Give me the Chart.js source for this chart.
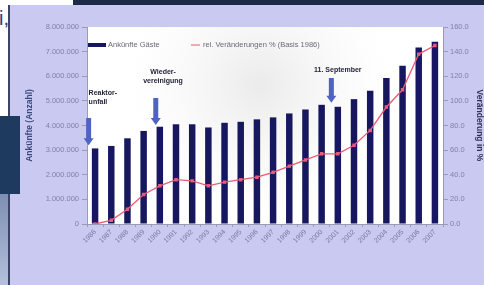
<!DOCTYPE html>
<html>
<head>
<meta charset="utf-8">
<script src="https://cdn.jsdelivr.net/npm/chart.js@4"></script>
<style>
  html, body { margin: 0; padding: 0; width: 484px; height: 285px; overflow: hidden; background: #fff; }
  body { position: relative; font-family: "Liberation Sans", Arial, sans-serif; }
  .top-band { position: absolute; left: 73px; top: 0; width: 411px; height: 6px; background: #1b2b47; }
  .panel { position: absolute; left: 8px; top: 5px; right: 0; bottom: 0; background: #c9c9f2; border-left: 2px solid #3c4466; }
  .left-block { position: absolute; left: 0; top: 116px; width: 20px; height: 78px; background: #1e3a5e; }
  .left-low { position: absolute; left: 0; top: 194px; width: 8px; height: 91px; background: linear-gradient(#7d8fb3, #b4c0dc); }
  .cut-title { position: absolute; left: -1px; top: 7px; font-size: 20px; color: #2b3c82; }
  canvas { position: absolute; left: 0; top: 0; }
</style>
</head>
<body>
<div class="top-band"></div>
<div class="panel"></div>
<div class="left-block"></div>
<div class="left-low"></div>
<div class="cut-title">i,</div>
<canvas id="c" width="484" height="285"></canvas>
<script>
  // Werte
  const years = ['1986', '1987', '1988', '1989', '1990', '1991', '1992', '1993', '1994', '1995', '1996',
    '1997', '1998', '1999', '2000', '2001', '2002', '2003', '2004', '2005', '2006', '2007'];
  const arrivals = [3070000, 3170000, 3480000, 3780000, 3950000, 4050000, 4050000, 3920000, 4110000, 4150000, 4250000,
    4330000, 4490000, 4650000, 4840000, 4760000, 5070000, 5410000, 5930000, 6430000, 7170000, 7400000];
  const changePct = [0, 3, 12, 24, 31, 36, 35, 31, 34, 36, 38,
    42, 47, 52, 57, 57, 64, 76, 95, 109, 138, 145];
  const leftTitle = 'Ankünfte (Anzahl)';
  const rightTitle = 'Veränderung in %';
  const barLabel = 'Ankünfte Gäste';
  const lineLabel = 'rel. Veränderungen % (Basis 1986)';

  const NAVY = '#17175f';
  const RED = '#ea5a78';
  const TICK = '#8282a4';
  const FONT = '"Liberation Sans", Arial, sans-serif';

  // Ereignisse mit Pfeil (x = Kategorie-Index, y = Wert linke Achse)
  const notes = [
    { lines: ['Reaktor-', 'unfall'], textX: -0.4, textY: 5300000, align: 'left', arrowX: -0.4, arrowTop: 4300000, arrowTip: 3200000 },
    { lines: ['Wieder-', 'vereinigung'], textX: 4.2, textY: 6180000, align: 'center', arrowX: 3.75, arrowTop: 5120000, arrowTip: 4020000 },
    { lines: ['11. September'], textX: 15.0, textY: 6260000, align: 'center', arrowX: 14.6, arrowTop: 5930000, arrowTip: 4920000 }
  ];

  function fmtDe(v) {
    return String(v).replace(/\B(?=(\d{3})+(?!\d))/g, '.');
  }

  const plotBg = {
    id: 'plotBg',
    beforeDraw(chart) {
      const { ctx, chartArea: a } = chart;
      ctx.save();
      ctx.fillStyle = '#ffffff';
      ctx.fillRect(a.left, a.top, a.right - a.left, a.bottom - a.top);
      const g = ctx.createRadialGradient(260, 85, 5, 260, 85, 130);
      g.addColorStop(0, 'rgba(200,200,200,0.35)');
      g.addColorStop(1, 'rgba(230,230,230,0)');
      ctx.fillStyle = g;
      ctx.fillRect(a.left, a.top, a.right - a.left, a.bottom - a.top);
      ctx.restore();
    }
  };

  const legendInside = {
    id: 'legendInside',
    afterDraw(chart) {
      const { ctx, chartArea: a } = chart;
      const ds = chart.data.datasets;
      const y = a.top + 18;
      ctx.save();
      ctx.font = '7.5px ' + FONT;
      ctx.textBaseline = 'middle';
      ctx.fillStyle = ds[1].backgroundColor;
      ctx.fillRect(a.left + 1, y - 2, 18, 4);
      ctx.fillStyle = '#6a6a7a';
      ctx.fillText(ds[1].label, a.left + 21, y);
      const lx = a.left + 104;
      ctx.strokeStyle = ds[0].borderColor;
      ctx.lineWidth = 1;
      ctx.beginPath();
      ctx.moveTo(lx, y);
      ctx.lineTo(lx + 9, y);
      ctx.stroke();
      ctx.fillText(ds[0].label, lx + 12, y);
      ctx.restore();
    }
  };

  const eventNotes = {
    id: 'eventNotes',
    afterDatasetsDraw(chart) {
      const { ctx, scales: { x, y } } = chart;
      ctx.save();
      for (const n of notes) {
        // Pfeil
        const ax = x.getPixelForValue(n.arrowX);
        const t = y.getPixelForValue(n.arrowTop);
        const b = y.getPixelForValue(n.arrowTip);
        ctx.fillStyle = '#4f63c4';
        ctx.beginPath();
        ctx.moveTo(ax - 2.5, t);
        ctx.lineTo(ax + 2.5, t);
        ctx.lineTo(ax + 2.5, b - 7);
        ctx.lineTo(ax + 5, b - 7);
        ctx.lineTo(ax, b);
        ctx.lineTo(ax - 5, b - 7);
        ctx.lineTo(ax - 2.5, b - 7);
        ctx.closePath();
        ctx.fill();
        // Text
        ctx.font = 'bold 7px ' + FONT;
        ctx.fillStyle = '#24243c';
        ctx.textAlign = n.align;
        ctx.textBaseline = 'middle';
        const tx = x.getPixelForValue(n.textX);
        const ty = y.getPixelForValue(n.textY);
        n.lines.forEach((l, i) => ctx.fillText(l, tx, ty + i * 9));
      }
      ctx.restore();
    }
  };

  new Chart(document.getElementById('c'), {
    data: {
      labels: years,
      datasets: [
        {
          type: 'line',
          label: lineLabel,
          data: changePct,
          yAxisID: 'y1',
          borderColor: RED,
          backgroundColor: RED,
          borderWidth: 1.3,
          pointRadius: 1.5,
          pointStyle: 'rect',
          tension: 0,
          order: 0
        },
        {
          type: 'bar',
          label: barLabel,
          data: arrivals,
          yAxisID: 'y',
          backgroundColor: NAVY,
          borderWidth: 0,
          categoryPercentage: 1,
          barPercentage: 0.4,
          order: 1
        }
      ]
    },
    options: {
      responsive: false,
      animation: false,
      layout: { padding: { left: 18, right: 0, top: 27, bottom: 33 } },
      plugins: {
        legend: { display: false },
        tooltip: { enabled: false }
      },
      scales: {
        x: {
          grid: { display: true, drawOnChartArea: false, tickLength: 3, color: '#9a9ab0' },
          border: { color: '#9a9ab0' },
          ticks: { color: '#7878a0', font: { size: 7, family: FONT }, minRotation: 45, maxRotation: 45, autoSkip: false, padding: 1 },
          afterFit(s) { s.height = 28; }
        },
        y: {
          position: 'left',
          min: 0,
          max: 8000000,
          grid: { drawOnChartArea: false, tickLength: 5, color: '#9a9ab0' },
          border: { color: '#9a9ab0' },
          ticks: { stepSize: 1000000, color: TICK, font: { size: 7.5, family: FONT }, padding: 3, callback: (v) => fmtDe(v) },
          title: { display: true, text: leftTitle, color: '#3a4a7c', font: { size: 8.5, weight: 'bold', family: FONT }, padding: { top: 7, bottom: 0 } },
          afterFit(s) { s.width = 69; }
        },
        y1: {
          position: 'right',
          min: 0,
          max: 160,
          grid: { drawOnChartArea: false, tickLength: 5, color: '#9a9ab0' },
          border: { color: '#9a9ab0' },
          ticks: { stepSize: 20, color: TICK, font: { size: 7.5, family: FONT }, padding: 2, callback: (v) => v.toFixed(1) },
          title: { display: true, text: rightTitle, color: '#30305c', font: { size: 8.5, weight: 'bold', family: FONT }, padding: { top: 0, bottom: 0 } },
          afterFit(s) { s.width = 41; }
        }
      }
    },
    plugins: [plotBg, legendInside, eventNotes]
  });
</script>
</body>
</html>
